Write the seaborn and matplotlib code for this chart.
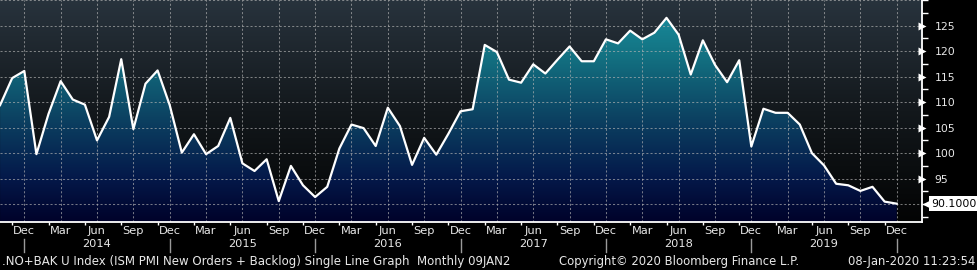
import numpy as np
import pandas as pd
import matplotlib
matplotlib.use("Agg")
import matplotlib.pyplot as plt
import matplotlib.transforms as mtransforms
from matplotlib.colors import LinearSegmentedColormap
import seaborn as sns

# ---------------- data ----------------
start_month = "2013-10"
values = [109.4, 114.7, 116.1, 99.8, 107.7, 114.1, 110.5, 109.5, 102.5, 107.1,
          118.4, 104.7, 113.6, 116.2, 109.4, 100.1, 103.7, 99.8, 101.4, 106.9,
          98.0, 96.5, 98.8, 90.6, 97.5, 93.7, 91.4, 93.4, 100.9, 105.6,
          104.9, 101.4, 108.9, 105.3, 97.7, 103.0, 99.7, 103.8, 108.2, 108.6,
          121.2, 119.8, 114.4, 113.8, 117.4, 115.6, 118.3, 120.9, 118.0, 118.0,
          122.3, 121.5, 124.0, 122.3, 123.6, 126.5, 123.2, 115.4, 122.1, 117.3,
          113.9, 118.2, 101.3, 108.7, 107.9, 107.9, 105.6, 100.0, 97.6, 94.0,
          93.7, 92.6, 93.4, 90.5, 90.1]
quarter_names = {12: "Dec", 3: "Mar", 6: "Jun", 9: "Sep"}
year_labels = ["2014", "2015", "2016", "2017", "2018", "2019"]
y_ticks = [95, 100, 105, 110, 115, 120, 125]
last_label = "90.1000"
footer_left = ".NO+BAK U Index (ISM PMI New Orders + Backlog) Single Line Graph  Monthly 09JAN2"
footer_mid = "Copyright\u00a9 2020 Bloomberg Finance L.P."
footer_right = "08-Jan-2020 11:23:54"

months = pd.period_range(start_month, periods=len(values), freq="M")
df = pd.DataFrame({"idx": np.arange(len(values)), "value": values,
                   "month": months.month, "year": months.year})

YMIN, YMAX = 86.45, 130.0
XMIN, XMAX = -0.006, 76.11

plt.rcParams["font.family"] = ["DejaVu Sans"]
fig = plt.figure(figsize=(9.78, 2.70), dpi=100, facecolor="black")
ax = fig.add_axes([0.0, 1 - 222.3 / 270, 922.3 / 978, 222.3 / 270])

# background gradient
bg_cmap = LinearSegmentedColormap.from_list(
    "bg", [(0.0, "#030404"), (0.5, "#13181c"), (1.0, "#28333d")])
grad = np.linspace(0, 1, 256).reshape(-1, 1)
ax.imshow(grad, extent=[XMIN, XMAX, YMIN, YMAX], origin="lower",
          aspect="auto", cmap=bg_cmap, zorder=0)

# area fill gradient
fill_cmap = LinearSegmentedColormap.from_list(
    "fill", [(0.0, "#00022a"), (0.2, "#04194a"), (0.47, "#0c4262"),
             (0.75, "#137282"), (1.0, "#1a93a3")])
fb = ax.fill_between(df["idx"], df["value"], YMIN, color="none", lw=0)
gimg = ax.imshow(grad, extent=[XMIN, XMAX, YMIN, YMAX], origin="lower",
                 aspect="auto", cmap=fill_cmap, zorder=1)
gimg.set_clip_path(fb.get_paths()[0], transform=ax.transData)

# line
sns.lineplot(data=df, x="idx", y="value", ax=ax, color="white",
             linewidth=1.6, zorder=4)

ax.set_xlim(XMIN, XMAX)
ax.set_ylim(YMIN, YMAX)

# gridlines
q = df[df["month"].isin(quarter_names.keys())]
for xv in q["idx"]:
    ax.axvline(xv, color="#b4b4b4", lw=0.75, ls=(0, (2, 2)), alpha=0.65, zorder=3)
for yv in range(90, 131, 5):
    ax.axhline(yv, color="#b4b4b4", lw=0.75, ls=(0, (2, 2)), alpha=0.65, zorder=3)

# spines
for s in ["left", "top"]:
    ax.spines[s].set_visible(False)
for s in ["bottom", "right"]:
    ax.spines[s].set_color("white")
    ax.spines[s].set_linewidth(1.3)
    ax.spines[s].set_zorder(6)

# x ticks
ax.set_xticks(q["idx"].tolist())
ax.set_xticklabels([quarter_names[m] for m in q["month"]])
minor_x = df[df["month"].isin([11, 2, 5, 8])]["idx"].tolist()
ax.set_xticks(minor_x, minor=True)
ax.tick_params(axis="x", which="major", length=0, pad=2.5, labelsize=8.2,
               labelcolor="#e8e8e8")
ax.tick_params(axis="x", which="minor", length=2.5, width=1, color="white",
               direction="out")

xtrans = mtransforms.blended_transform_factory(ax.transData, ax.transAxes)
for yr in year_labels:
    xi = df[(df["year"] == int(yr)) & (df["month"] == 6)]["idx"].iloc[0]
    ax.text(xi, -0.099, yr, transform=xtrans, ha="center", va="center",
            fontsize=8.2, color="#e8e8e8", clip_on=False)
for xi in df[df["month"] == 12]["idx"]:
    ax.plot([xi, xi], [-0.077, -0.134], transform=xtrans, color="#9a9a9a",
            lw=1, clip_on=False)

# y ticks (right)
ax.yaxis.tick_right()
ax.set_yticks(y_ticks)
ax.set_yticklabels([str(v) for v in y_ticks])
ax.set_yticks(np.arange(87.5, 130.1, 2.5), minor=True)
ax.tick_params(axis="y", which="major", length=0, pad=9, labelsize=7.8,
               labelcolor="#e8e8e8")
ax.tick_params(axis="y", which="minor", length=4, width=1, color="white",
               direction="out")
ytrans = mtransforms.blended_transform_factory(ax.transAxes, ax.transData)
ax.plot([1.0] * len(y_ticks), y_ticks, transform=ytrans, ls="", marker=">",
        ms=5.5, color="white", mec="none", clip_on=False, zorder=7)
ax.set_xlabel("")
ax.set_ylabel("")

# last value tag
last = values[-1]
ax.plot([1.0 + 4.5 / 922.3], [last], transform=ytrans, ls="", marker="<",
        ms=7, color="white", mec="none", clip_on=False, zorder=7)
ax.text(1.0 + 9 / 922.3, last, last_label, transform=ytrans, ha="left",
        va="center", fontsize=7.9, color="black", clip_on=False,
        bbox=dict(boxstyle="square,pad=0.25", fc="white", ec="none"))

# footer
fy = (270 - 261.7) / 270
fig.text(2 / 978, fy, footer_left, ha="left", va="center", fontsize=8.45,
         color="#e8e8e8")
fig.text(559 / 978, fy, footer_mid, ha="left", va="center", fontsize=8.4,
         color="#e8e8e8")
fig.text(975 / 978, fy, footer_right, ha="right", va="center", fontsize=8.4,
         color="#e8e8e8")

fig.savefig("out.png", dpi=100, facecolor="black")
